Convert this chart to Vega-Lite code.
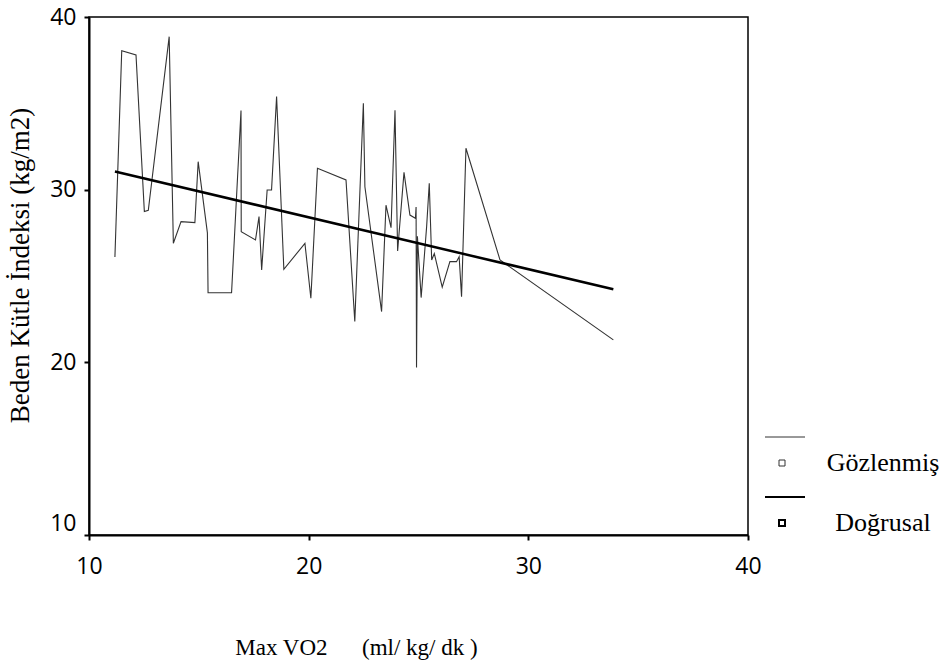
{
  "$schema": "https://vega.github.io/schema/vega-lite/v6.json",
  "width": 659,
  "height": 518,
  "autosize": {"type": "none"},
  "padding": {"left": 89, "top": 17, "right": 198, "bottom": 130},
  "background": "white",
  "config": {
    "view": {"stroke": "#000", "strokeWidth": 1.5},
    "axis": {
      "grid": false,
      "domainColor": "#000",
      "domainWidth": 2,
      "tickColor": "#000",
      "tickWidth": 2,
      "tickSize": 5,
      "labelFont": "Open Sans",
      "labelFontSize": 23,
      "labelColor": "#000",
      "titleFont": "Liberation Serif",
      "titleFontWeight": "normal",
      "titleColor": "#000"
    }
  },
  "datasets": {
    "obs": [
      {"maxvo2": 11.18, "bki": 26.1, "seri": "Gözlenmiş"},
      {"maxvo2": 11.49, "bki": 38.05, "seri": "Gözlenmiş"},
      {"maxvo2": 12.14, "bki": 37.8, "seri": "Gözlenmiş"},
      {"maxvo2": 12.52, "bki": 28.73, "seri": "Gözlenmiş"},
      {"maxvo2": 12.7, "bki": 28.8, "seri": "Gözlenmiş"},
      {"maxvo2": 13.65, "bki": 38.86, "seri": "Gözlenmiş"},
      {"maxvo2": 13.84, "bki": 26.9, "seri": "Gözlenmiş"},
      {"maxvo2": 14.19, "bki": 28.15, "seri": "Gözlenmiş"},
      {"maxvo2": 14.82, "bki": 28.09, "seri": "Gözlenmiş"},
      {"maxvo2": 14.97, "bki": 31.62, "seri": "Gözlenmiş"},
      {"maxvo2": 15.39, "bki": 27.5, "seri": "Gözlenmiş"},
      {"maxvo2": 15.42, "bki": 24.03, "seri": "Gözlenmiş"},
      {"maxvo2": 16.49, "bki": 24.03, "seri": "Gözlenmiş"},
      {"maxvo2": 16.92, "bki": 34.58, "seri": "Gözlenmiş"},
      {"maxvo2": 16.93, "bki": 27.57, "seri": "Gözlenmiş"},
      {"maxvo2": 17.58, "bki": 27.09, "seri": "Gözlenmiş"},
      {"maxvo2": 17.74, "bki": 28.44, "seri": "Gözlenmiş"},
      {"maxvo2": 17.86, "bki": 25.35, "seri": "Gözlenmiş"},
      {"maxvo2": 18.11, "bki": 29.98, "seri": "Gözlenmiş"},
      {"maxvo2": 18.31, "bki": 29.98, "seri": "Gözlenmiş"},
      {"maxvo2": 18.54, "bki": 35.39, "seri": "Gözlenmiş"},
      {"maxvo2": 18.87, "bki": 25.39, "seri": "Gözlenmiş"},
      {"maxvo2": 19.83, "bki": 26.89, "seri": "Gözlenmiş"},
      {"maxvo2": 20.1, "bki": 23.71, "seri": "Gözlenmiş"},
      {"maxvo2": 20.4, "bki": 31.24, "seri": "Gözlenmiş"},
      {"maxvo2": 21.7, "bki": 30.56, "seri": "Gözlenmiş"},
      {"maxvo2": 22.1, "bki": 22.36, "seri": "Gözlenmiş"},
      {"maxvo2": 22.49, "bki": 35.0, "seri": "Gözlenmiş"},
      {"maxvo2": 22.56, "bki": 30.17, "seri": "Gözlenmiş"},
      {"maxvo2": 23.32, "bki": 22.94, "seri": "Gözlenmiş"},
      {"maxvo2": 23.52, "bki": 29.1, "seri": "Gözlenmiş"},
      {"maxvo2": 23.75, "bki": 27.8, "seri": "Gözlenmiş"},
      {"maxvo2": 23.93, "bki": 34.6, "seri": "Gözlenmiş"},
      {"maxvo2": 24.05, "bki": 26.45, "seri": "Gözlenmiş"},
      {"maxvo2": 24.34, "bki": 31.0, "seri": "Gözlenmiş"},
      {"maxvo2": 24.61, "bki": 28.53, "seri": "Gözlenmiş"},
      {"maxvo2": 24.86, "bki": 28.34, "seri": "Gözlenmiş"},
      {"maxvo2": 24.89, "bki": 29.0, "seri": "Gözlenmiş"},
      {"maxvo2": 24.91, "bki": 19.7, "seri": "Gözlenmiş"},
      {"maxvo2": 24.95, "bki": 27.3, "seri": "Gözlenmiş"},
      {"maxvo2": 25.12, "bki": 23.75, "seri": "Gözlenmiş"},
      {"maxvo2": 25.37, "bki": 27.86, "seri": "Gözlenmiş"},
      {"maxvo2": 25.49, "bki": 30.37, "seri": "Gözlenmiş"},
      {"maxvo2": 25.6, "bki": 25.93, "seri": "Gözlenmiş"},
      {"maxvo2": 25.72, "bki": 26.3, "seri": "Gözlenmiş"},
      {"maxvo2": 26.08, "bki": 24.35, "seri": "Gözlenmiş"},
      {"maxvo2": 26.43, "bki": 25.83, "seri": "Gözlenmiş"},
      {"maxvo2": 26.73, "bki": 25.83, "seri": "Gözlenmiş"},
      {"maxvo2": 26.85, "bki": 26.12, "seri": "Gözlenmiş"},
      {"maxvo2": 26.96, "bki": 23.8, "seri": "Gözlenmiş"},
      {"maxvo2": 27.16, "bki": 32.4, "seri": "Gözlenmiş"},
      {"maxvo2": 28.71, "bki": 25.93, "seri": "Gözlenmiş"},
      {"maxvo2": 33.87, "bki": 21.3, "seri": "Gözlenmiş"}
    ],
    "fit": [
      {"maxvo2": 11.18, "bki": 31.05, "seri": "Doğrusal"},
      {"maxvo2": 33.87, "bki": 24.23, "seri": "Doğrusal"}
    ]
  },
  "encoding": {
    "x": {
      "field": "maxvo2",
      "type": "quantitative",
      "scale": {"domain": [10, 40], "nice": false, "zero": false},
      "axis": {
        "values": [10, 20, 30, 40],
        "title": "Max VO2\u00a0\u00a0\u00a0\u00a0\u00a0 (ml/ kg/ dk )",
        "titleFontSize": 23,
        "labelFlush": false,
        "labelPadding": 15,
        "titleX": 267,
        "titleY": 112,
        "titleBaseline": "middle",
        "titleAlign": "center"
      }
    },
    "y": {
      "field": "bki",
      "type": "quantitative",
      "scale": {"domain": [10, 40], "nice": false, "zero": false},
      "axis": {
        "values": [10, 20, 30, 40],
        "title": "Beden Kütle İndeksi (kg/m2)",
        "titleFontSize": 27,
        "labelPadding": 8,
        "labelOffset": {"condition": {"test": "datum.value === 10", "value": -12}, "value": 0},
        "titleX": -69,
        "titleY": 248,
        "titleBaseline": "middle",
        "titleAlign": "center"
      }
    },
    "color": {
      "field": "seri",
      "type": "nominal",
      "scale": {"domain": ["Gözlenmiş", "Doğrusal"], "range": ["#333333", "#000000"]},
      "legend": {
        "orient": "none",
        "legendX": 680,
        "legendY": 433,
        "title": null,
        "padding": 0,
        "symbolType": "M-0.85,-1.3H1.15M-0.15,-0.15H0.15V0.15H-0.15Z",
        "symbolSize": 1600,
        "symbolStrokeWidth": 1.2,
        "symbolFillColor": "transparent",
        "labelFont": "Liberation Serif",
        "labelFontSize": 26,
        "labelColor": "#000",
        "labelAlign": "center",
        "labelOffset": 88,
        "rowPadding": 17,
        "labelLimit": 300,
        "encode": {
          "symbols": {
            "update": {
              "strokeWidth": {"signal": "datum.value === 'Doğrusal' ? 2 : 1"}
            }
          }
        }
      }
    }
  },
  "layer": [
    {
      "data": {"name": "obs"},
      "mark": {"type": "line", "strokeWidth": 1.1}
    },
    {
      "data": {"name": "fit"},
      "mark": {"type": "line", "strokeWidth": 2.5}
    }
  ]
}
